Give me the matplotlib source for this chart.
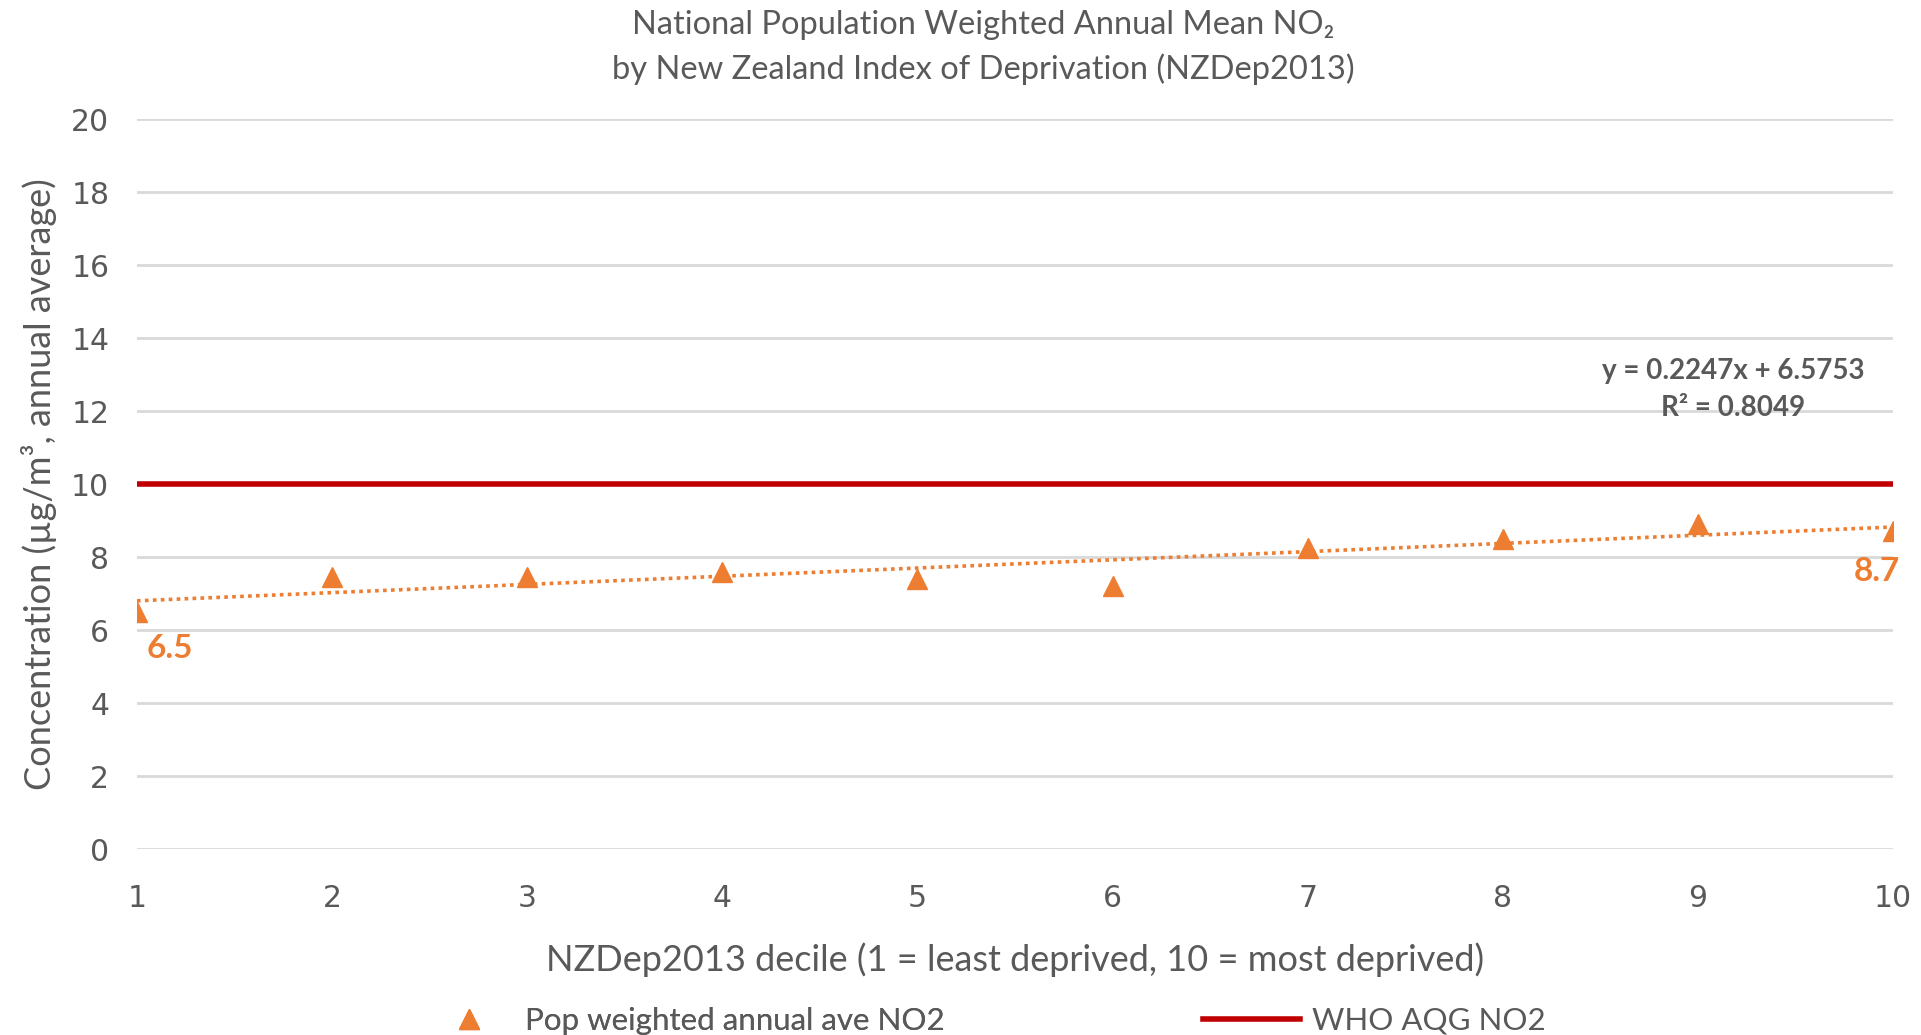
import matplotlib
matplotlib.use("Agg")
import matplotlib.pyplot as plt
from matplotlib.lines import Line2D
import numpy as np

# NZDep2013 deciles and population weighted annual mean NO2 (ug/m3)
deciles = [1, 2, 3, 4, 5, 6, 7, 8, 9, 10]
no2_mean = [6.5, 7.45, 7.45, 7.6, 7.4, 7.2, 8.25, 8.5, 8.9, 8.7]
who_aqg = 10
trend_slope = 0.2247
trend_intercept = 6.5753
trend_r2 = 0.8049
y_ticks = [0, 2, 4, 6, 8, 10, 12, 14, 16, 18, 20]

ORANGE = "#ED7D31"
RED = "#C00000"
GREY = "#595959"
GRID = "#D9D9D9"
FONT = ["Lato", "DejaVu Sans"]

fig = plt.figure(figsize=(19.21, 10.35), dpi=100)
ax = fig.add_axes([0.0713, 0.1797, 0.9141, 0.7053])

for v in y_ticks:
    ax.axhline(v, color=GRID, lw=2, zorder=0)

x = np.array(deciles)
ax.plot(x, trend_intercept + trend_slope * x, ls=(0, (1, 1.2)), color=ORANGE,
        lw=2.6, zorder=2)
ax.axhline(who_aqg, color=RED, lw=4, zorder=3)
ax.plot(deciles, no2_mean, ls="none", marker="^", ms=14, color=ORANGE,
        mec=ORANGE, zorder=4)

# end point labels
ax.annotate(f"{no2_mean[0]:.1f}", (deciles[0], no2_mean[0]), xytext=(33, -37),
            textcoords="offset pixels", ha="center", va="center",
            color=ORANGE, fontsize=24, fontweight="bold", family=FONT)
ax.annotate(f"{no2_mean[-1]:.1f}", (deciles[-1], no2_mean[-1]), xytext=(-16, -40),
            textcoords="offset pixels", ha="center", va="center",
            color=ORANGE, fontsize=24, fontweight="bold", family=FONT)

ax.text(9.18, 13.1, f"y = {trend_slope}x + {trend_intercept}", ha="center",
        va="center", color=GREY, fontsize=20, fontweight="bold", family=FONT)
ax.text(9.18, 12.08, f"R² = {trend_r2}", ha="center", va="center",
        color=GREY, fontsize=20, fontweight="bold", family=FONT)

ax.set_xlim(1, 10)
ax.set_ylim(0, 20)
ax.set_xticks(deciles)
ax.set_yticks(y_ticks)
for s in ax.spines.values():
    s.set_visible(False)
ax.tick_params(length=0, labelsize=21.5, labelcolor=GREY)
ax.tick_params(axis="x", pad=25)
ax.tick_params(axis="y", pad=20)

ax.set_xlabel("NZDep2013 decile (1 = least deprived, 10 = most deprived)",
              fontsize=26, color=GREY, family=FONT, labelpad=21)
ax.set_ylabel("Concentration (µg/m³, annual average)", fontsize=26,
              color=GREY, family=FONT, labelpad=10)

fig.text(0.512, 0.976, "National Population Weighted Annual Mean NO₂",
         ha="center", va="center", fontsize=23.5, color=GREY, family=FONT)
fig.text(0.512, 0.933, "by New Zealand Index of Deprivation (NZDep2013)",
         ha="center", va="center", fontsize=23.5, color=GREY, family=FONT)

# legend entries placed separately so each sits where it belongs
leg_props = {"family": FONT, "size": 22.5}
leg1 = fig.legend([Line2D([], [], ls="none", marker="^", ms=14, color=ORANGE)],
                  ["Pop weighted annual ave NO2"], loc="center left",
                  bbox_to_anchor=(0.228, 0.014), frameon=False, prop=leg_props,
                  labelcolor=GREY, handlelength=2, handletextpad=0.8,
                  borderpad=0, borderaxespad=0)
fig.add_artist(leg1)
fig.legend([Line2D([], [], color=RED, lw=4)], ["WHO AQG NO2"],
           loc="center left", bbox_to_anchor=(0.6262, 0.014), frameon=False,
           prop=leg_props, labelcolor=GREY, handlelength=3.1,
           handletextpad=0.4, borderpad=0, borderaxespad=0)

fig.savefig("out.png", dpi=100)
